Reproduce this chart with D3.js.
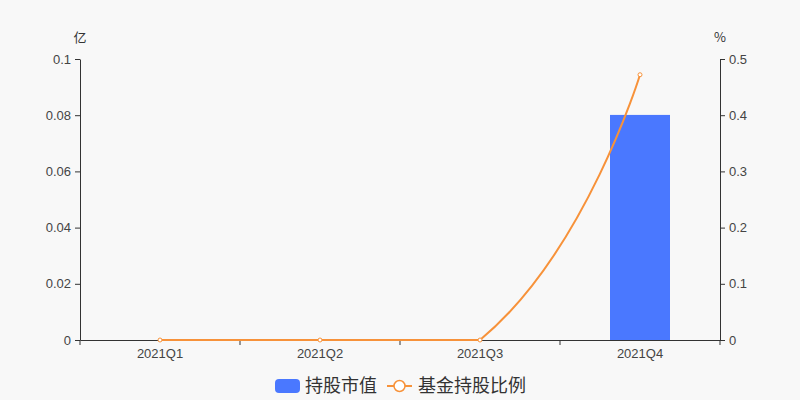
<!DOCTYPE html>
<html>
<head>
<meta charset="utf-8">
<script src="https://cdn.jsdelivr.net/npm/d3@7"></script>
<style>
  body { margin: 0; background: #f8f8f8; }
  svg { display: block; font-family: "Noto Sans CJK SC", "Noto Sans", sans-serif; }
</style>
</head>
<body>
<svg id="chart" width="800" height="400"></svg>
<script>
// chart data
const quarters = ["2021Q1", "2021Q2", "2021Q3", "2021Q4"];
const holdValue = [0, 0, 0, 0.0801];      // 亿
const holdRatio = [0, 0, 0, 0.472];       // %
const leftTicks = [0, 0.02, 0.04, 0.06, 0.08, 0.1];
const rightTicks = [0, 0.1, 0.2, 0.3, 0.4, 0.5];

const W = 800, H = 400;
const m = {left: 80, right: 80, top: 59, bottom: 60};

const svg = d3.select("#chart");
svg.append("rect").attr("width", W).attr("height", H).attr("fill", "#f8f8f8");

const x = d3.scaleBand()
  .domain(quarters)
  .range([m.left, W - m.right]);

const yL = d3.scaleLinear().domain([0, 0.1]).range([H - m.bottom, m.top]);
const yR = d3.scaleLinear().domain([0, 0.5]).range([H - m.bottom, m.top]);

// bars
const barW = 60;
svg.selectAll("rect.bar")
  .data(quarters)
  .join("rect")
    .attr("class", "bar")
    .attr("x", (d, i) => x(d) + x.bandwidth() / 2 - barW / 2)
    .attr("y", (d, i) => yL(holdValue[i]))
    .attr("width", barW)
    .attr("height", (d, i) => yL(0) - yL(holdValue[i]))
    .attr("fill", "#4a78ff");

// axes
function styleAxis(g) {
  g.selectAll("path").attr("stroke", "#333");
  g.selectAll("line").attr("stroke", "#333");
  g.selectAll("text").attr("fill", "#444").style("font-size", "13px")
    .style("font-family", "'Liberation Sans', Arial, sans-serif");
}

svg.append("g")
  .attr("transform", `translate(${m.left},0)`)
  .call(d3.axisLeft(yL).tickValues(leftTicks).tickFormat(d => d === 0 ? "0" : d3.format("~g")(d)).tickSize(5).tickSizeOuter(0).tickPadding(4))
  .call(styleAxis);

svg.append("g")
  .attr("transform", `translate(${W - m.right},0)`)
  .call(d3.axisRight(yR).tickValues(rightTicks).tickFormat(d => d === 0 ? "0" : d3.format("~g")(d)).tickSize(5).tickSizeOuter(0).tickPadding(4))
  .call(styleAxis);

const xAxis = svg.append("g")
  .attr("transform", `translate(0,${H - m.bottom})`)
  .call(d3.axisBottom(x).tickSize(0).tickPadding(9))
  .call(styleAxis);

// tick marks on band boundaries
const bounds = quarters.map(q => x(q)).concat([x(quarters[quarters.length - 1]) + x.bandwidth()]);
xAxis.selectAll("line.bnd")
  .data(bounds)
  .join("line")
    .attr("class", "bnd")
    .attr("x1", d => d).attr("x2", d => d)
    .attr("y1", 0).attr("y2", 5)
    .attr("stroke", "#333");

// unit labels
svg.append("text").attr("x", m.left).attr("y", 42).attr("text-anchor", "middle")
  .attr("fill", "#333").style("font-size", "13px").text("亿");
svg.append("text").attr("x", W - m.right).attr("y", 42).attr("text-anchor", "middle")
  .attr("fill", "#333").style("font-size", "13px").text("%");

// ratio line, smoothed the way the original chart does it
const cx = q => x(q) + x.bandwidth() / 2;
const pts = holdRatio.map((d, i) => [cx(quarters[i]), yR(d)]);

function between(v, a, b) { return Math.max(Math.min(a, b), Math.min(Math.max(a, b), v)); }

function smoothPath(pts, s) {
  const path = d3.path();
  path.moveTo(pts[0][0], pts[0][1]);
  let cp0 = pts[0];
  for (let i = 1; i < pts.length; i++) {
    const p = pts[i], prev = pts[i - 1], next = pts[i + 1];
    let cp1, nextCp0;
    if (!next) {
      cp1 = p;
      nextCp0 = p;
    } else {
      const vx = next[0] - prev[0], vy = next[1] - prev[1];
      const l0 = Math.hypot(p[0] - prev[0], p[1] - prev[1]);
      const l1 = Math.hypot(next[0] - p[0], next[1] - p[1]);
      const r = l1 / (l0 + l1 || 1);
      cp1 = [between(p[0] - vx * s * (1 - r), p[0], prev[0]),
             between(p[1] - vy * s * (1 - r), p[1], prev[1])];
      nextCp0 = [between(p[0] + vx * s * r, p[0], next[0]),
                 between(p[1] + vy * s * r, p[1], next[1])];
    }
    path.bezierCurveTo(cp0[0], cp0[1], cp1[0], cp1[1], p[0], p[1]);
    cp0 = nextCp0;
  }
  return path.toString();
}

svg.append("path")
  .attr("d", smoothPath(pts, 0.5))
  .attr("fill", "none")
  .attr("stroke", "#f7923a")
  .attr("stroke-width", 2);

svg.selectAll("circle.pt")
  .data(holdRatio)
  .join("circle")
    .attr("class", "pt")
    .attr("cx", (d, i) => cx(quarters[i]))
    .attr("cy", d => yR(d))
    .attr("r", 2)
    .attr("fill", "#fff")
    .attr("stroke", "#f7923a")
    .attr("stroke-width", 1);

// legend
const lg = svg.append("g");
lg.append("rect").attr("x", 275).attr("y", 379).attr("width", 25).attr("height", 14)
  .attr("rx", 4).attr("fill", "#4a78ff");
lg.append("text").attr("x", 305).attr("y", 392).attr("fill", "#333")
  .style("font-size", "18px").text("持股市值");
lg.append("line").attr("x1", 387).attr("x2", 412).attr("y1", 386).attr("y2", 386)
  .attr("stroke", "#f7923a").attr("stroke-width", 2);
lg.append("circle").attr("cx", 399.5).attr("cy", 386).attr("r", 5.5)
  .attr("fill", "#fff").attr("stroke", "#f7923a").attr("stroke-width", 1.5);
lg.append("text").attr("x", 418).attr("y", 392).attr("fill", "#333")
  .style("font-size", "18px").text("基金持股比例");
</script>
</body>
</html>
